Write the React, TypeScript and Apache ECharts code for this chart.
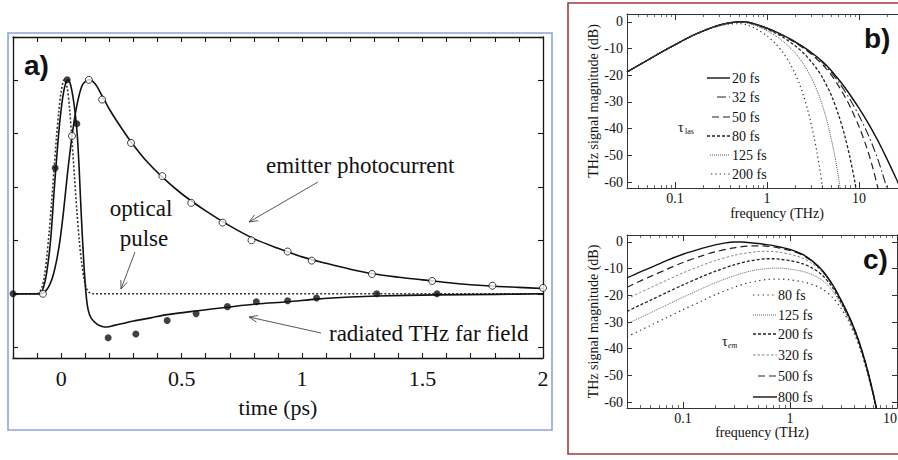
import React, { useEffect, useRef } from "react";
import * as echarts from "echarts";

type P = [number, number];

// ---------------- Panel a (time in ps, normalized amplitude) ----------------
const aTimeTickLabels = [0, 0.5, 1, 1.5, 2];

const opticalPulse: P[] = [
  [-0.2, 0], [-0.1, 0], [-0.09, 0.03], [-0.08, 0.12], [-0.07, 0.32], [-0.06, 0.68], [-0.05, 1.15],
  [-0.04, 1.7], [-0.03, 2.3], [-0.02, 2.9], [-0.01, 3.4], [0.0, 3.78], [0.012, 4.0], [0.025, 3.85],
  [0.035, 3.45], [0.045, 2.85], [0.055, 2.2], [0.065, 1.55], [0.075, 1.0], [0.085, 0.58], [0.095, 0.28],
  [0.105, 0.1], [0.115, 0.03], [0.13, 0], [2.0, 0],
];

const photocurrentFit: P[] = [
  [-0.2, 0], [-0.08, 0], [-0.065, 0.05], [-0.05, 0.15], [-0.035, 0.32], [-0.02, 0.6], [-0.005, 1.0],
  [0.01, 1.55], [0.025, 2.2], [0.045, 2.95], [0.06, 3.4], [0.075, 3.72], [0.09, 3.92], [0.115, 4.0],
  [0.14, 3.93], [0.17, 3.7], [0.2, 3.45], [0.25, 3.1], [0.3, 2.78], [0.35, 2.5], [0.42, 2.18],
  [0.5, 1.87], [0.6, 1.55], [0.7, 1.27], [0.8, 1.03], [0.9, 0.85], [1.0, 0.69], [1.1, 0.57],
  [1.2, 0.46], [1.3, 0.37], [1.4, 0.31], [1.5, 0.26], [1.6, 0.21], [1.7, 0.17], [1.8, 0.14],
  [1.9, 0.12], [2.0, 0.1],
];

const photocurrentData: P[] = [
  [-0.076, 0], [0.045, 2.95], [0.115, 4.0], [0.17, 3.63], [0.29, 2.82], [0.42, 2.2], [0.54, 1.7],
  [0.67, 1.33], [0.79, 1.0], [0.94, 0.79], [1.04, 0.62], [1.29, 0.37], [1.54, 0.24], [1.79, 0.15],
  [2.0, 0.11],
];

const thzFieldFit: P[] = [
  [-0.2, 0], [-0.09, 0], [-0.075, 0.1], [-0.06, 0.4], [-0.044, 1.0], [-0.028, 2.0], [-0.015, 2.75],
  [-0.005, 3.25], [0.008, 3.72], [0.02, 3.96], [0.028, 4.0], [0.038, 3.92], [0.05, 3.65], [0.06, 3.3],
  [0.067, 2.95], [0.074, 2.4], [0.08, 1.8], [0.087, 1.15], [0.095, 0.5], [0.103, 0.0], [0.112, -0.3],
  [0.125, -0.46], [0.15, -0.57], [0.17, -0.61], [0.19, -0.62], [0.22, -0.59], [0.25, -0.56],
  [0.3, -0.51], [0.37, -0.45], [0.44, -0.39], [0.56, -0.32], [0.69, -0.25], [0.81, -0.19],
  [0.94, -0.15], [1.06, -0.1], [1.2, -0.06], [1.31, -0.04], [1.56, -0.02], [1.8, -0.01], [2.0, 0],
];

const thzFieldData: P[] = [
  [-0.2, 0], [-0.025, 2.35], [0.025, 4.0], [0.065, 3.18], [0.195, -0.82], [0.31, -0.75], [0.44, -0.5],
  [0.56, -0.37], [0.69, -0.24], [0.81, -0.15], [0.94, -0.13], [1.06, -0.08], [1.31, 0.0], [1.56, 0.0],
];

// ---------------- Panels b, c (frequency in THz, magnitude in dB) ----------------
const freqTickLabels = [0.1, 1, 10];
const dbTickLabels = [0, -10, -20, -30, -40, -50, -60];

const bNames = ["20 fs", "32 fs", "50 fs", "80 fs", "125 fs", "200 fs"];
const bLas20: P[] = [
  [0.03, -18.8], [0.04, -16.3], [0.05, -14.4], [0.07, -11.5], [0.1, -8.6], [0.15, -5.4], [0.2, -3.5],
  [0.25, -2.2], [0.3, -1.3], [0.4, -0.35], [0.5, 0], [0.6, -0.1], [0.75, -0.9], [1, -2.4], [1.25, -3.8],
  [1.5, -5.1], [1.75, -6.3], [2, -7.4], [2.5, -9.5], [3, -11.4], [3.5, -13.2], [4, -14.9], [5, -18.3],
  [6, -21.6], [7, -24.6], [8, -27.4], [10, -32.4], [12, -36.8], [14, -40.8], [16, -44.5], [18, -48.0],
  [20, -51.2], [22, -54.2], [24, -57.0], [26, -59.6], [28, -62.0], [30, -64.3],
];
const bLas32: P[] = [
  [0.03, -18.8], [0.04, -16.3], [0.05, -14.4], [0.07, -11.5], [0.1, -8.6], [0.15, -5.4], [0.2, -3.5],
  [0.25, -2.2], [0.3, -1.3], [0.4, -0.36], [0.5, 0], [0.6, -0.1], [0.75, -0.92], [1, -2.43],
  [1.5, -5.16], [2, -7.5], [2.5, -9.7], [3, -11.6], [4, -15.3], [5, -19.0], [6, -22.6], [7, -26.0],
  [8, -29.2], [10, -35.2], [12, -40.8], [14, -46.2], [16, -51.5], [18, -56.9], [20, -62.2], [21, -65],
];
const bLas50: P[] = [
  [0.03, -18.8], [0.04, -16.3], [0.05, -14.4], [0.07, -11.5], [0.1, -8.6], [0.15, -5.4], [0.2, -3.5],
  [0.25, -2.2], [0.3, -1.3], [0.4, -0.36], [0.5, -0.02], [0.6, -0.12], [0.75, -0.95], [1, -2.5],
  [1.5, -5.3], [2, -7.7], [2.5, -9.9], [3, -12.0], [4, -16.0], [5, -20.0], [6, -24.1], [7, -28.0],
  [8, -31.8], [10, -39.3], [12, -46.7], [14, -54.3], [16, -62.2], [17, -66],
];
const bLas80: P[] = [
  [0.03, -18.8], [0.04, -16.3], [0.05, -14.4], [0.07, -11.5], [0.1, -8.6], [0.15, -5.4], [0.2, -3.5],
  [0.25, -2.2], [0.3, -1.32], [0.4, -0.4], [0.5, -0.1], [0.6, -0.23], [0.75, -1.1], [1, -2.8],
  [1.25, -4.4], [1.5, -5.9], [2, -8.9], [2.5, -11.8], [3, -14.8], [3.5, -17.8], [4, -20.9], [5, -27.6],
  [6, -35.0], [7, -42.8], [8, -51.2], [9, -60.0], [9.5, -64.8],
];
const bLas125: P[] = [
  [0.03, -18.8], [0.04, -16.3], [0.05, -14.4], [0.07, -11.5], [0.1, -8.6], [0.15, -5.4], [0.2, -3.55],
  [0.25, -2.3], [0.3, -1.4], [0.4, -0.5], [0.5, -0.26], [0.6, -0.47], [0.75, -1.5], [1, -3.4],
  [1.25, -5.4], [1.5, -7.4], [1.75, -9.5], [2, -11.5], [2.5, -15.9], [3, -20.7], [3.5, -25.8],
  [4, -31.4], [4.5, -37.4], [5, -44.1], [5.5, -51.0], [6, -58.7], [6.4, -65.1],
];
const bLas200: P[] = [
  [0.03, -18.8], [0.04, -16.3], [0.05, -14.4], [0.07, -11.5], [0.1, -8.63], [0.15, -5.47], [0.2, -3.62],
  [0.25, -2.4], [0.3, -1.56], [0.4, -0.82], [0.5, -0.74], [0.6, -1.16], [0.75, -2.55], [1, -5.3],
  [1.25, -8.4], [1.5, -11.7], [1.75, -15.3], [2, -19.2], [2.25, -23.3], [2.5, -27.9], [2.75, -32.7],
  [3, -37.9], [3.25, -43.4], [3.5, -49.2], [3.75, -55.4], [4, -62.0], [4.2, -67.5],
];

const cNames = ["80 fs", "125 fs", "200 fs", "320 fs", "500 fs", "800 fs"];
const cEm80: P[] = [
  [0.03, -35.5], [0.04, -33.1], [0.05, -31.2], [0.07, -28.4], [0.1, -25.4], [0.15, -22.1], [0.2, -19.8],
  [0.3, -17.0], [0.4, -15.4], [0.5, -14.6], [0.6, -14.1], [0.7, -13.9], [0.8, -13.9], [1, -14.2],
  [1.3, -14.9], [1.6, -15.9], [2, -17.6], [2.5, -20.8], [3, -24.8], [3.5, -29.4], [4, -34.5],
  [4.5, -39.9], [5, -45.7], [5.5, -51.7], [6, -57.8], [6.5, -64],
];
const cEm125: P[] = [
  [0.03, -30.7], [0.04, -28.3], [0.05, -26.5], [0.07, -23.7], [0.1, -20.7], [0.15, -17.5], [0.2, -15.3],
  [0.3, -12.7], [0.4, -11.2], [0.5, -10.4], [0.6, -10.0], [0.7, -9.8], [0.8, -9.8], [1, -10.2],
  [1.3, -11.0], [1.6, -12.2], [2, -14.3], [2.5, -18.3], [3, -23.3], [3.5, -28.6], [4, -33.8],
  [4.5, -39.3], [5, -45.2], [5.5, -51.3], [6, -57.5], [6.5, -63.8],
];
const cEm200: P[] = [
  [0.03, -26], [0.04, -23.6], [0.05, -21.8], [0.07, -19.0], [0.1, -16.1], [0.15, -13.0], [0.2, -11.0],
  [0.3, -8.6], [0.4, -7.3], [0.5, -6.6], [0.6, -6.3], [0.7, -6.3], [0.8, -6.5], [1, -7.0], [1.3, -8.1],
  [1.6, -9.7], [2, -12.4], [2.5, -17.1], [3, -22.6], [3.5, -27.8], [4, -33.1], [4.5, -38.7],
  [5, -44.7], [5.5, -50.9], [6, -57.2], [6.5, -63.6],
];
const cEm320: P[] = [
  [0.03, -21.3], [0.04, -18.9], [0.05, -17.1], [0.07, -14.4], [0.1, -11.6], [0.15, -8.8], [0.2, -7.0],
  [0.3, -5.0], [0.4, -4.1], [0.5, -3.6], [0.6, -3.5], [0.7, -3.6], [0.8, -3.9], [1, -4.6], [1.3, -6.0],
  [1.6, -8.0], [2, -11.3], [2.5, -16.4], [3, -22.0], [3.5, -27.4], [4, -32.8], [4.5, -38.5],
  [5, -44.5], [5.5, -50.7], [6, -57.0], [6.5, -63.4],
];
const cEm500: P[] = [
  [0.03, -17], [0.04, -14.6], [0.05, -12.9], [0.07, -10.3], [0.1, -7.7], [0.15, -5.2], [0.2, -3.7],
  [0.3, -2.2], [0.4, -1.6], [0.5, -1.45], [0.6, -1.6], [0.7, -1.9], [0.8, -2.3], [1, -3.2], [1.3, -4.9],
  [1.6, -7.2], [2, -10.8], [2.5, -16.1], [3, -21.9], [3.5, -27.3], [4, -32.7], [4.5, -38.4],
  [5, -44.4], [5.5, -50.6], [6, -56.9], [6.5, -63.3],
];
const cEm800: P[] = [
  [0.03, -13.5], [0.04, -11.2], [0.05, -9.6], [0.07, -7.0], [0.1, -4.6], [0.15, -2.4], [0.2, -1.1],
  [0.25, -0.35], [0.3, 0], [0.35, 0], [0.4, -0.2], [0.5, -0.6], [0.6, -1.0], [0.7, -1.4], [0.8, -1.9],
  [1, -2.8], [1.3, -4.6], [1.6, -7.0], [2, -10.6], [2.5, -16.0], [3, -21.8], [3.5, -27.2], [4, -32.6],
  [4.5, -38.3], [5, -44.3], [5.5, -50.5], [6, -56.8], [6.5, -63.2],
];

const bSeriesData = [bLas20, bLas32, bLas50, bLas80, bLas125, bLas200];
const cSeriesData = [cEm80, cEm125, cEm200, cEm320, cEm500, cEm800];

// ---------------- styles ----------------
const serif = "Liberation Serif";
const sans = "Liberation Sans";
const ink = "#151515";

type LS = { type: any; width: number; color: string };
const bLineStyles: LS[] = [
  { type: "solid", width: 1.4, color: "#111" },
  { type: [9, 3, 1.5, 3], width: 1.1, color: "#222" },
  { type: [7, 4], width: 1.2, color: "#222" },
  { type: [3, 2], width: 1.3, color: "#222" },
  { type: [1, 1], width: 0.9, color: "#444" },
  { type: [1.3, 3], width: 1.2, color: "#333" },
];
const cLineStyles: LS[] = [
  { type: [1.3, 3.5], width: 1.2, color: "#333" },
  { type: [1, 1], width: 0.9, color: "#555" },
  { type: [3, 2], width: 1.3, color: "#222" },
  { type: [2.5, 2], width: 0.8, color: "#666" },
  { type: [7, 4], width: 1.2, color: "#222" },
  { type: "solid", width: 1.4, color: "#111" },
];

const fmtTime = (v: number) => {
  const hit = aTimeTickLabels.find((t) => Math.abs(v - t) < 1e-6);
  return hit === undefined ? "" : String(hit);
};
const fmtFreq = (v: number) => {
  const hit = freqTickLabels.find((t) => Math.abs(Math.log10(v) - Math.log10(t)) < 0.01);
  return hit === undefined ? "" : String(hit);
};
const fmtDb = (v: number) => {
  const hit = dbTickLabels.find((t) => Math.abs(v - t) < 0.01);
  return hit === undefined ? "" : String(hit);
};

function xAxisA(position: "bottom" | "top") {
  const bottom = position === "bottom";
  return {
    type: "value", gridIndex: 0, position, min: -0.2, max: 2, interval: 0.1,
    axisLine: { show: true, onZero: false, lineStyle: { color: ink, width: 1.3 } },
    axisTick: { show: true, inside: true, length: 5, lineStyle: { color: ink, width: 1.1 } },
    axisLabel: { show: bottom, formatter: fmtTime, fontFamily: serif, fontSize: 22, color: "#111", margin: 9 },
    splitLine: { show: false },
    name: bottom ? "time (ps)" : "", nameLocation: "middle", nameGap: 38,
    nameTextStyle: { fontFamily: serif, fontSize: 22, color: "#111" },
  };
}
function yAxisA(position: "left" | "right") {
  return {
    type: "value", gridIndex: 0, position, min: -1.2, max: 4.8, splitNumber: 6,
    axisLine: { show: true, onZero: false, lineStyle: { color: ink, width: 1.3 } },
    axisTick: { show: true, inside: true, length: 5, lineStyle: { color: ink, width: 1.1 } },
    axisLabel: { show: false }, splitLine: { show: false },
  };
}
function xAxisLog(gridIndex: number, max: number, position: "bottom" | "top", nameGap: number, pad: number, alignMax: string) {
  const bottom = position === "bottom";
  return {
    type: "log", logBase: 10, gridIndex, position, min: 0.03, max,
    axisLine: { show: true, onZero: false, lineStyle: { color: "#333", width: 1 } },
    axisTick: { show: true, inside: true, length: 6, lineStyle: { color: "#333", width: 1 } },
    minorTick: { show: true, splitNumber: 9, length: 3, lineStyle: { color: "#444", width: 0.8 } },
    axisLabel: {
      show: bottom, formatter: fmtFreq, fontFamily: serif, fontSize: 14, color: "#111", margin: 3,
      alignMaxLabel: alignMax,
    },
    splitLine: { show: false }, minorSplitLine: { show: false },
    name: bottom ? "frequency (THz)" : "", nameLocation: "middle", nameGap,
    nameTextStyle: { fontFamily: serif, fontSize: 14, color: "#111", padding: [0, 0, 0, pad] },
  };
}
function yAxisDb(gridIndex: number, min: number, max: number, position: "left" | "right") {
  const left = position === "left";
  return {
    type: "value", gridIndex, position, min, max, splitNumber: 6,
    axisLine: { show: true, onZero: false, lineStyle: { color: "#333", width: 1 } },
    axisTick: { show: true, inside: true, length: 5, lineStyle: { color: "#333", width: 1 } },
    axisLabel: { show: left, formatter: fmtDb, fontFamily: serif, fontSize: 14, color: "#111", margin: 4 },
    splitLine: { show: false },
    name: left ? "THz signal magnitude (dB)" : "", nameLocation: "middle", nameGap: 27,
    nameTextStyle: { fontFamily: serif, fontSize: 14, color: "#111" },
  };
}

function arrow(x1: number, y1: number, x2: number, y2: number) {
  const a = Math.atan2(y2 - y1, x2 - x1);
  const L = 9, w = 0.38;
  return [
    { type: "line", shape: { x1, y1, x2, y2 }, style: { stroke: "#444", lineWidth: 0.9 } },
    {
      type: "polyline",
      shape: {
        points: [
          [x2 - L * Math.cos(a - w), y2 - L * Math.sin(a - w)],
          [x2, y2],
          [x2 - L * Math.cos(a + w), y2 - L * Math.sin(a + w)],
        ],
      },
      style: { stroke: "#444", lineWidth: 0.9, fill: "none" },
    },
  ];
}

function txt(text: string, x: number, y: number, size: number, opts: any = {}) {
  const align = opts.align || "left";
  return {
    type: "text", z: 50,
    style: {
      text, x, y, fontSize: size, fontFamily: opts.family || serif, fontWeight: opts.weight || "normal",
      fontStyle: opts.style || "normal", fill: opts.fill || "#111",
      align, verticalAlign: "middle", textAlign: align, textVerticalAlign: "middle",
    },
  };
}

function legendItems(names: string[], styles: LS[], x1s: number[], x2: number, ys: number[], tx: number) {
  const els: any[] = [];
  names.forEach((n, i) => {
    const st = styles[i];
    els.push({
      type: "line", z: 50,
      shape: { x1: x1s[i], y1: ys[i], x2, y2: ys[i] },
      style: { stroke: st.color, lineWidth: st.width, lineDash: st.type === "solid" ? null : st.type },
    });
    els.push(txt(n, tx, ys[i], 14));
  });
  return els;
}

export default function App() {
  const ref = useRef<HTMLDivElement>(null);
  useEffect(() => {
    if (!ref.current) return;
    const chart = echarts.init(ref.current, undefined, { renderer: "svg" });

    const series: any[] = [
      {
        type: "line", name: "optical pulse", xAxisIndex: 0, yAxisIndex: 0, data: opticalPulse,
        symbol: "none", smooth: 0.3, lineStyle: { color: "#333", width: 1.6, type: [2, 2] }, z: 2,
      },
      {
        type: "line", name: "emitter photocurrent", xAxisIndex: 0, yAxisIndex: 0, data: photocurrentFit,
        symbol: "none", smooth: 0.3, lineStyle: { color: "#111", width: 1.6 }, z: 3,
      },
      {
        type: "line", name: "radiated THz far field", xAxisIndex: 0, yAxisIndex: 0, data: thzFieldFit,
        symbol: "none", smooth: 0.3, lineStyle: { color: "#111", width: 1.6 }, z: 3,
      },
      {
        type: "scatter", name: "photocurrent data", xAxisIndex: 0, yAxisIndex: 0, data: photocurrentData,
        symbol: "circle", symbolSize: 7, clip: false,
        itemStyle: { color: "#fff", borderColor: "#111", borderWidth: 1 }, z: 5,
      },
      {
        type: "scatter", name: "THz field data", xAxisIndex: 0, yAxisIndex: 0, data: thzFieldData,
        symbol: "circle", symbolSize: 7, clip: false, itemStyle: { color: "#111" }, z: 5,
      },
    ];
    bNames.forEach((n, i) => {
      const st = bLineStyles[i];
      series.push({
        type: "line", name: "b " + n, xAxisIndex: 2, yAxisIndex: 2, data: bSeriesData[i], symbol: "none",
        smooth: 0.3, lineStyle: { color: st.color, width: st.width, type: st.type },
      });
    });
    cNames.forEach((n, i) => {
      const st = cLineStyles[i];
      series.push({
        type: "line", name: "c " + n, xAxisIndex: 4, yAxisIndex: 4, data: cSeriesData[i], symbol: "none",
        smooth: 0.3, lineStyle: { color: st.color, width: st.width, type: st.type },
      });
    });

    const graphics: any[] = [
      { type: "rect", z: 40, shape: { x: 8, y: 33, width: 544, height: 397 }, style: { fill: "none", stroke: "#8aa6d6", lineWidth: 1.6 } },
      { type: "rect", z: 40, shape: { x: 568, y: 3, width: 340, height: 451 }, style: { fill: "none", stroke: "#a83838", lineWidth: 1.6 } },
      txt("a)", 24, 65, 28, { family: sans, weight: "bold" }),
      txt("b)", 864, 38, 28, { family: sans, weight: "bold" }),
      txt("c)", 863, 259, 28, { family: sans, weight: "bold" }),
      txt("emitter photocurrent", 266, 165, 23),
      txt("optical", 141, 208, 23, { align: "center" }),
      txt("pulse", 144, 238, 23, { align: "center" }),
      txt("radiated THz far field", 329, 333, 23),
      ...arrow(318, 182, 249, 222),
      ...arrow(135, 252, 121, 289),
      ...arrow(321, 333, 249, 317),
      txt("τ", 678, 127, 14),
      txt("las", 685, 131, 8),
      txt("τ", 722, 341, 14),
      txt("em", 728, 345, 8, { style: "italic" }),
      ...legendItems(bNames, bLineStyles, [707, 717, 712, 707, 710, 711], 730, [78, 97, 117, 136, 155, 174], 732),
      ...legendItems(cNames, cLineStyles, [753, 753, 753, 753, 758, 753], 777, [295, 315, 334, 355, 376, 397], 778),
    ];

    const option: any = {
      animation: false,
      backgroundColor: "#fff",
      textStyle: { fontFamily: serif },
      grid: [
        { left: 13, top: 37, right: 355, bottom: 102, containLabel: false, outerBoundsMode: "none" },
        { left: 627, top: 14, right: -5, bottom: 272, containLabel: false, outerBoundsMode: "none" },
        { left: 627, top: 235, right: 1, bottom: 52, containLabel: false, outerBoundsMode: "none" },
      ],
      xAxis: [
        xAxisA("bottom"), xAxisA("top"),
        xAxisLog(1, 30, "bottom", 18, 24, "center"), xAxisLog(1, 30, "top", 18, 0, "center"),
        xAxisLog(2, 10, "bottom", 12, 0, "right"), xAxisLog(2, 10, "top", 12, 0, "center"),
      ],
      yAxis: [
        yAxisA("left"), yAxisA("right"),
        yAxisDb(1, -62.2, 2.9, "left"), yAxisDb(1, -62.2, 2.9, "right"),
        yAxisDb(2, -62.2, 2.6, "left"), yAxisDb(2, -62.2, 2.6, "right"),
      ],
      series,
      graphic: { elements: graphics },
    };
    chart.setOption(option);
    return () => chart.dispose();
  }, []);

  return (
    <div
      ref={ref}
      style={{ position: "absolute", left: 0, top: 0, width: 898, height: 460, background: "#fff" }}
    />
  );
}
